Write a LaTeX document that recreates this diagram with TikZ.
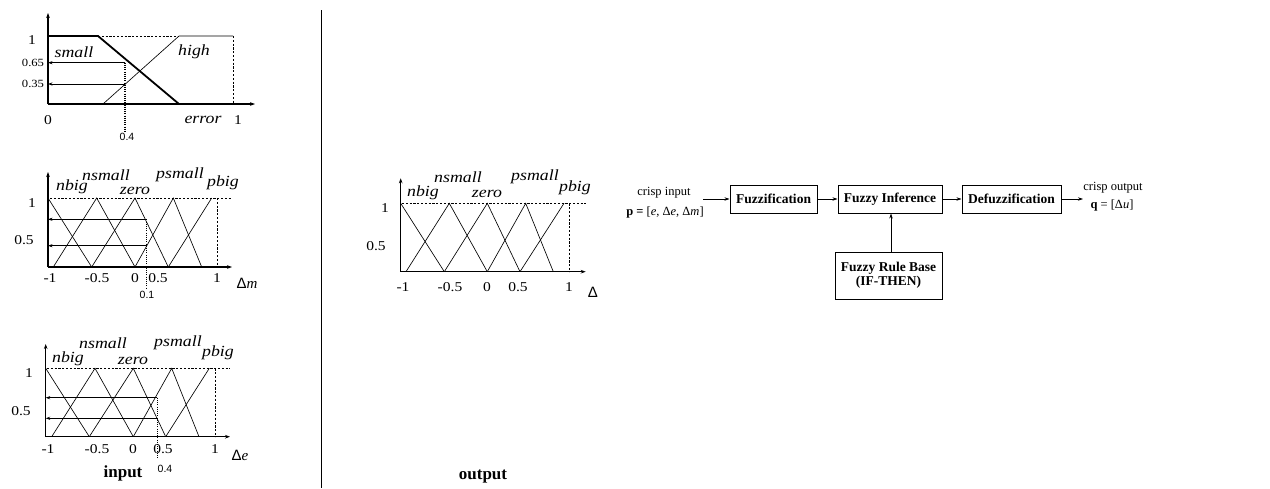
\documentclass[tikz,border=0pt]{standalone}
\usepackage{fontspec}
\setmainfont{Liberation Serif}
\newfontfamily\chartrm{Liberation Serif}[FakeStretch=1.15]
\newfontfamily\chartsf{Liberation Sans}
\usetikzlibrary{arrows.meta}

\begin{document}
\begin{tikzpicture}[x=1pt,y=-1pt,
  axis/.style={line width=1.1pt,-{Stealth[length=5pt,width=3.6pt]}},
  mf/.style={line width=0.65pt},
  mfbold/.style={line width=1.8pt},
  guide/.style={line width=0.6pt,dash pattern=on 2.2pt off 1.6pt},
  pick/.style={line width=1.4pt,dash pattern=on 1.1pt off 1.1pt},
  readout/.style={line width=0.8pt,-{Stealth[length=4.5pt,width=3.2pt]}},
  num/.style={inner sep=0pt,font=\chartrm\fontsize{13.5}{14}\selectfont},
  tinynum/.style={inner sep=0pt,font=\chartrm\fontsize{11}{12}\selectfont},
  sfnum/.style={inner sep=0pt,font=\chartsf\fontsize{10.5}{12}\selectfont},
  term/.style={inner sep=0pt,font=\chartrm\itshape\fontsize{15.5}{16}\selectfont},
  varname/.style={inner sep=0pt,font=\fontsize{15}{16}\selectfont},
  caption/.style={inner sep=0pt,font=\bfseries\fontsize{17}{18}\selectfont},
  block/.style={draw,line width=1pt,inner sep=0pt,minimum height=28pt,
                font=\bfseries\fontsize{13.5}{15}\selectfont,align=center},
  plain/.style={inner sep=0pt,font=\fontsize{12.5}{14}\selectfont},
  flow/.style={line width=0.8pt,-{Stealth[length=5pt,width=3.4pt]}}
]
\useasboundingbox (0,0) rectangle (1270,488);

% ---------- membership of the error e ----------
\draw[axis] (48,104) -- (48,13);
\draw[axis] (48,104) -- (255,104);
\draw[mfbold] (48,36) -- (98,36) -- (179,104);
\draw[mf] (103,104) -- (179,36) -- (233,36);
\draw[guide] (98,36) -- (179,36);
\draw[guide] (233,36) -- (233,104);
\draw[readout] (125,62.7) -- (48,62.7);
\draw[readout] (125,84) -- (48,84);
\draw[pick] (125,62.7) -- (125,133);
\node[num] (e-one) at (32,40) {1};
\node[tinynum] (e-065) at (33,63) {0.65};
\node[tinynum] (e-035) at (33,84) {0.35};
\node[term] (e-small) at (74,52) {small};
\node[term] (e-high) at (194,52) {high};
\node[num] (e-zero) at (48,120) {0};
\node[term] (e-name) at (203,120) {error};
\node[num] (e-max) at (238,120) {1};
\node[sfnum] (e-pick) at (127,137) {0.4};

% ---------- membership of the change Delta m ----------
\draw[axis] (48,267) -- (48,172);
\draw[axis] (48,267) -- (232,267);
\draw[mf] (48,198) -- (91.7,267);
\draw[mf] (53.3,267) -- (96.7,198) -- (135,267);
\draw[mf] (91.7,267) -- (135,198) -- (168.3,267);
\draw[mf] (135,267) -- (173.3,198) -- (201.7,267);
\draw[mf] (168.3,267) -- (211.7,198);
\draw[guide] (50,198) -- (232,198);
\draw[guide] (217,198) -- (217,267);
\draw[readout] (146.7,219.3) -- (48,219.3);
\draw[readout] (146.7,245.7) -- (48,245.7);
\draw[pick,line width=0.9pt] (146.7,219.3) -- (146.7,288);
\node[num] (m-one) at (32,203) {1};
\node[num] (m-half) at (24,240) {0.5};
\foreach \x/\t [count=\i] in {50/-1,97/-0.5,135/0,158/0.5,217/1}
  \node[num] (m-tick\i) at (\x,278) {\t};
\node[varname] (m-name) at (247,283) {{\chartsf Δ}\textit{m}};
\node[sfnum] (m-pick) at (147,295) {0.1};
\node[term] (m-nbig) at (72,187) {nbig};
\node[term] (m-nsmall) at (106,175) {nsmall};
\node[term] (m-zero) at (135,191) {zero};
\node[term] (m-psmall) at (180,175) {psmall};
\node[term] (m-pbig) at (223,183) {pbig};

% ---------- membership of the change Delta e ----------
\draw[axis] (45.7,436.7) -- (45.7,344);
\draw[axis] (45.7,436.7) -- (230,436.7);
\draw[mf] (45.7,368.3) -- (89.3,436.7);
\draw[mf] (51.7,436.7) -- (95,368.3) -- (133.3,436.7);
\draw[mf] (89.3,436.7) -- (133.3,368.3) -- (165.7,436.7);
\draw[mf] (133.3,436.7) -- (171.7,368.3) -- (199,436.7);
\draw[mf] (165.7,436.7) -- (209.3,368.3);
\draw[guide] (47,368.3) -- (230,368.3);
\draw[guide] (215,368.3) -- (215,436.7);
\draw[readout] (157.3,397.7) -- (45.7,397.7);
\draw[readout] (157.3,418.3) -- (45.7,418.3);
\draw[pick,line width=0.9pt] (157.3,397.7) -- (157.3,458);
\node[num] (d-one) at (29,373) {1};
\node[num] (d-half) at (21,411) {0.5};
\foreach \x/\t [count=\i] in {48/-1,97/-0.5,133/0,163/0.5,215/1}
  \node[num] (d-tick\i) at (\x,449) {\t};
\node[varname] (d-name) at (240,455) {{\chartsf Δ}\textit{e}};
\node[sfnum] (d-pick) at (165,469) {0.4};
\node[term] (d-nbig) at (68,359) {nbig};
\node[term] (d-nsmall) at (103,343) {nsmall};
\node[term] (d-zero) at (133,361) {zero};
\node[term] (d-psmall) at (178,343) {psmall};
\node[term] (d-pbig) at (218,353) {pbig};
\node[caption,anchor=base] (in-caption) at (123,477) {input};

% ---------- separator ----------
\draw[line width=1pt] (321,10) -- (321,488);

% ---------- membership of the output Delta ----------
\draw[axis] (400.7,271.7) -- (400.7,178.3);
\draw[axis] (400.7,271.7) -- (585.7,271.7);
\draw[mf] (400.7,203.3) -- (444.3,271.7);
\draw[mf] (406,271.7) -- (449.3,203.3) -- (487.3,271.7);
\draw[mf] (444.3,271.7) -- (487.3,203.3) -- (520,271.7);
\draw[mf] (487.3,271.7) -- (525.7,203.3) -- (553.3,271.7);
\draw[mf] (520,271.7) -- (564,203.3);
\draw[guide] (402,203.3) -- (585.7,203.3);
\draw[guide] (569.3,203.3) -- (569.3,271.7);
\node[num] (u-one) at (385,208) {1};
\node[num] (u-half) at (376,246) {0.5};
\foreach \x/\t [count=\i] in {403/-1,450/-0.5,487/0,518/0.5,569/1}
  \node[num] (u-tick\i) at (\x,286.7) {\t};
\node[varname] (u-name) at (593,292) {\chartsf Δ};
\node[term] (u-nbig) at (423,193) {nbig};
\node[term] (u-nsmall) at (458,177) {nsmall};
\node[term] (u-zero) at (487,194) {zero};
\node[term] (u-psmall) at (535,177) {psmall};
\node[term] (u-pbig) at (575,188) {pbig};
\node[caption,anchor=base] (out-caption) at (483,479) {output};

% ---------- fuzzy controller block diagram ----------
\node[block,minimum width=87pt] (fuzz) at (773.5,199) {Fuzzification};
\node[block,minimum width=104pt] (infer) at (890,199) {Fuzzy Inference};
\node[block,minimum width=99pt] (defuzz) at (1011.5,199) {Defuzzification};
\node[block,minimum width=107pt,minimum height=47pt] (rules) at (888.5,275.5)
  {Fuzzy Rule Base\\[-1pt](IF-THEN)};
\coordinate (crispin) at (703,199);
\coordinate (crispout) at (1083,199);
\node[plain] (in-label) at (664,193) {crisp input};
\node[plain] (in-vector) at (665,212) {\textbf{p =} [\textit{e}, Δ\textit{e}, Δ\textit{m}]};
\node[plain] (out-label) at (1113,188) {crisp output};
\node[plain] (out-vector) at (1112,205) {\textbf{q} = [Δ\textit{u}]};
\draw[flow] (crispin) -- (fuzz);
\draw[flow] (fuzz) -- (infer);
\draw[flow] (infer) -- (defuzz);
\draw[flow] (defuzz) -- (crispout);
\draw[flow] (rules.north -| 891,0) -- (infer.south -| 891,0);
\end{tikzpicture}
\end{document}
